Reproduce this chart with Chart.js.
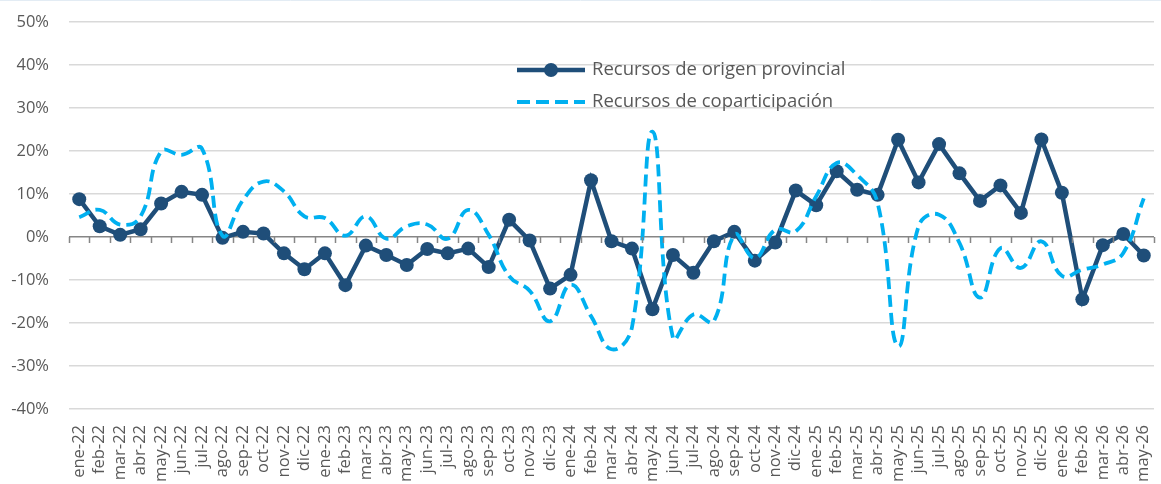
<!DOCTYPE html>
<html>
<head>
<meta charset="utf-8">
<script src="https://cdn.jsdelivr.net/npm/chart.js@4"></script>
<style>
  html, body { margin: 0; padding: 0; background: #fff; }
  #wrap { width: 1161px; height: 484px; }
</style>
</head>
<body>
<div id="wrap"><canvas id="myChart"></canvas></div>
<script>
const months = [
  'ene-22','feb-22','mar-22','abr-22','may-22','jun-22','jul-22','ago-22','sep-22','oct-22','nov-22','dic-22',
  'ene-23','feb-23','mar-23','abr-23','may-23','jun-23','jul-23','ago-23','sep-23','oct-23','nov-23','dic-23',
  'ene-24','feb-24','mar-24','abr-24','may-24','jun-24','jul-24','ago-24','sep-24','oct-24','nov-24','dic-24',
  'ene-25','feb-25','mar-25','abr-25','may-25','jun-25','jul-25','ago-25','sep-25','oct-25','nov-25','dic-25',
  'ene-26','feb-26','mar-26','abr-26','may-26'
];

const origenProvincial = [
  8.8, 2.5, 0.5, 1.8, 7.8, 10.5, 9.8, -0.2, 1.2, 0.8, -3.8, -7.5,
  -3.8, -11.2, -2.0, -4.2, -6.5, -2.8, -3.8, -2.7, -7.0, 4.0, -0.8, -12.0,
  -8.8, 13.2, -1.0, -2.7, -16.8, -4.2, -8.3, -1.0, 1.2, -5.5, -1.3, 10.8,
  7.4, 15.3, 11.0, 9.8, 22.6, 12.7, 21.6, 14.8, 8.4, 12.0, 5.6, 22.7,
  10.3, -14.5, -1.9, 0.7, -4.3
];

const coparticipacion = [
  4.6, 6.3, 2.9, 4.8, 19.9, 19.1, 20.5, 0.3, 8.6, 12.9, 10.6, 4.8,
  4.4, 0.3, 4.8, -0.4, 2.5, 2.9, -0.4, 6.3, 0.5, -9.1, -12.5, -19.6,
  -11.1, -18.4, -26.1, -21.0, 24.5, -23.4, -18.0, -19.6, 0.5, -4.9, 1.7, 1.3,
  9.5, 17.2, 14.4, 7.9, -25.4, 2.5, 5.2, -1.4, -14.1, -2.6, -7.2, -1.0,
  -9.0, -7.6, -6.4, -3.7, 9.0
];

const yTicks = { min: -40, max: 50, step: 10 };

const darkBlue = '#1f4e79';
const lightBlue = '#00b0f0';
const textGrey = '#595959';
const fontFamily = '"Open Sans", sans-serif';

// zero line tick marks between categories + custom legend
const extras = {
  id: 'extras',
  beforeDraw(chart) {
    const { ctx, width } = chart;
    ctx.save();
    ctx.strokeStyle = '#e3ecf4';
    ctx.lineWidth = 1;
    ctx.beginPath();
    ctx.moveTo(0, 0.5);
    ctx.lineTo(width, 0.5);
    ctx.stroke();
    ctx.restore();
  },
  afterDatasetsDraw(chart) {
    const { ctx, chartArea, scales } = chart;
    const y0 = scales.y.getPixelForValue(0);
    const n = months.length;
    const w = (chartArea.right - chartArea.left) / n;
    ctx.save();
    ctx.strokeStyle = '#868686';
    ctx.lineWidth = 1.5;
    for (let i = 0; i <= n; i++) {
      const x = Math.round(chartArea.left + i * w) + 0.5;
      ctx.beginPath();
      ctx.moveTo(x, y0);
      ctx.lineTo(x, y0 + 6);
      ctx.stroke();
    }
    ctx.restore();
  },
  afterDraw(chart) {
    const { ctx } = chart;
    const lx = 517, tx = 592;
    ctx.save();
    ctx.font = '18.5px ' + fontFamily;
    ctx.textBaseline = 'middle';

    ctx.strokeStyle = darkBlue;
    ctx.lineWidth = 4.5;
    ctx.beginPath();
    ctx.moveTo(lx, 70);
    ctx.lineTo(lx + 68, 70);
    ctx.stroke();
    ctx.fillStyle = darkBlue;
    ctx.beginPath();
    ctx.arc(lx + 34, 70, 7, 0, Math.PI * 2);
    ctx.fill();
    ctx.fillStyle = textGrey;
    ctx.fillText('Recursos de origen provincial', tx, 70);

    ctx.strokeStyle = lightBlue;
    ctx.lineWidth = 4;
    ctx.setLineDash([13, 6]);
    ctx.beginPath();
    ctx.moveTo(lx, 102);
    ctx.lineTo(lx + 68, 102);
    ctx.stroke();
    ctx.setLineDash([]);
    ctx.fillText('Recursos de coparticipación', tx, 102);
    ctx.restore();
  }
};

const ctx = document.getElementById('myChart');

const myChart = new Chart(ctx, {
  type: 'line',
  data: {
    labels: months,
    datasets: [{
      label: 'Recursos de coparticipación',
      data: coparticipacion,
      borderColor: lightBlue,
      borderWidth: 3.8,
      borderDash: [12, 6],
      pointRadius: 0,
      tension: 0.45,
      fill: false
    }, {
      label: 'Recursos de origen provincial',
      data: origenProvincial,
      borderColor: darkBlue,
      backgroundColor: darkBlue,
      borderWidth: 4.5,
      pointRadius: 7,
      pointBorderWidth: 0,
      pointHoverRadius: 7,
      tension: 0,
      fill: false
    }]
  },
  options: {
    responsive: true,
    maintainAspectRatio: false,
    animation: false,
    layout: { padding: { top: 22, right: 1, left: 0, bottom: 0 } },
    plugins: {
      legend: { display: false },
      tooltip: { enabled: false }
    },
    scales: {
      x: {
        offset: true,
        grid: { display: false },
        border: { display: false },
        afterFit: (scale) => {
          scale.height = 75;
          scale.paddingLeft = 0;
          scale.paddingRight = 0;
        },
        ticks: {
          color: textGrey,
          font: { family: fontFamily, size: 16.5 },
          minRotation: 90,
          maxRotation: 90,
          autoSkip: false,
          padding: 8
        }
      },
      y: {
        min: yTicks.min,
        max: yTicks.max,
        border: { display: false },
        afterFit: (scale) => {
          scale.width = 69;
          scale.paddingTop = 0;
          scale.paddingBottom = 0;
        },
        grid: {
          color: (c) => c.tick && c.tick.value === 0 ? '#868686' : '#d9d9d9',
          lineWidth: 1.5,
          drawTicks: false
        },
        ticks: {
          stepSize: yTicks.step,
          color: textGrey,
          font: { family: fontFamily, size: 16.5 },
          padding: 20,
          callback: (v) => v + '%'
        }
      }
    }
  },
  plugins: [extras]
});
</script>
</body>
</html>
